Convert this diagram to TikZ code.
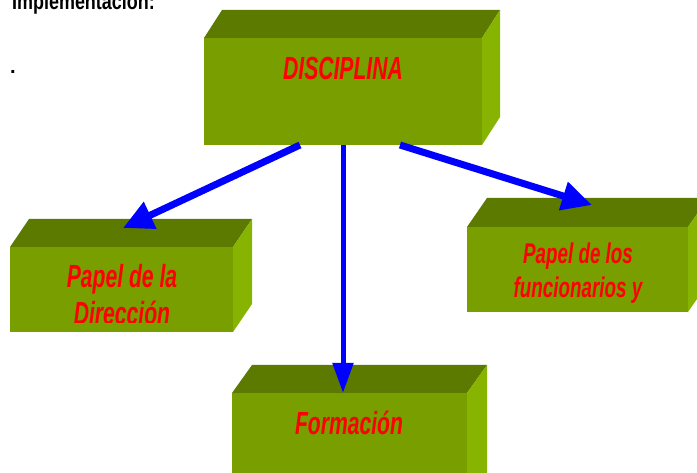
\documentclass[tikz,border=0pt]{standalone}
\usepackage{fontspec}
\setmainfont{Liberation Sans}
\newfontfamily\labelfont[FakeStretch=0.66]{Liberation Sans}
\newfontfamily\headfont[FakeStretch=0.78]{Liberation Sans}
\usetikzlibrary{arrows.meta}

\definecolor{frontgreen}{RGB}{120,158,0}
\definecolor{topgreen}{RGB}{92,122,0}
\definecolor{sidegreen}{RGB}{134,180,0}
\definecolor{linkblue}{RGB}{0,0,255}
\definecolor{labelred}{RGB}{255,0,0}

\tikzset{
  frontface/.style={fill=frontgreen, draw=none, inner sep=0pt, outer sep=0pt, anchor=north west},
  topface/.style={fill=topgreen},
  sideface/.style={fill=sidegreen},
  boxlabel/.style={font=\labelfont\bfseries\itshape\fontsize{32}{36}\selectfont,
                   text=labelred, inner sep=0pt, anchor=base},
  smalllabel/.style={boxlabel, font=\labelfont\bfseries\itshape\fontsize{28.5}{32}\selectfont},
  link/.style={draw=linkblue, line width=7pt, -{Triangle[length=30pt,width=28pt]}},
  downlink/.style={draw=linkblue, line width=5pt, -{Triangle[length=30pt,width=20pt]}},
}

\begin{document}
\begin{tikzpicture}[x=1pt, y=-1pt]
\clip (0,0) rectangle (697,473);
\fill[white] (0,0) rectangle (697,473);

% heading line and stray dot
\node[font=\headfont\bfseries\fontsize{23}{26}\selectfont, anchor=base west, inner sep=0pt]
  (head) at (12,10) {Implementación:};
\node[font=\bfseries\fontsize{20}{22}\selectfont, anchor=base, inner sep=0pt] (dot) at (13,74) {.};

% top block
\node[frontface, minimum width=278pt, minimum height=107pt] (disc) at (204,38) {};
\fill[topface] (disc.north west) -- ++(18,-28) -- ++(278,0) -- (disc.north east) -- cycle;
\fill[sideface] (disc.north east) -- ++(18,-28) -- ++(0,107) -- (disc.south east) -- cycle;
\node[boxlabel] (disc-t) at (343,80) {DISCIPLINA};

% left block
\node[frontface, minimum width=223pt, minimum height=85pt] (dir) at (10,247) {};
\fill[topface] (dir.north west) -- ++(19,-28) -- ++(223,0) -- (dir.north east) -- cycle;
\fill[sideface] (dir.north east) -- ++(19,-28) -- ++(0,85) -- (dir.south east) -- cycle;
\begin{scope}
  \clip (10,247) rectangle (233,323);
  \node[boxlabel] (dir-t1) at (122,288) {Papel de la};
  \node[boxlabel] (dir-t2) at (122,325) {Dirección};
\end{scope}

% right block
\node[frontface, minimum width=221pt, minimum height=85pt] (fun) at (467,227) {};
\fill[topface] (fun.north west) -- ++(20,-29) -- ++(221,0) -- (fun.north east) -- cycle;
\fill[sideface] (fun.north east) -- ++(20,-29) -- ++(0,85) -- (fun.south east) -- cycle;
\begin{scope}
  \clip (467,227) rectangle (688,304);
  \node[smalllabel] (fun-t1) at (578,264) {Papel de los};
  \node[smalllabel] (fun-t2) at (578,298) {funcionarios y};
\end{scope}

% bottom block
\node[frontface, minimum width=235pt, minimum height=120pt] (form) at (232,393) {};
\fill[topface] (form.north west) -- ++(20,-28) -- ++(235,0) -- (form.north east) -- cycle;
\fill[sideface] (form.north east) -- ++(20,-28) -- ++(0,120) -- (form.south east) -- cycle;
\node[boxlabel] (form-t) at (349,435) {Formación};

% arrow ends on the lower blocks
\coordinate (dir-tip) at (123,228);
\coordinate (fun-tip) at (592,205);
\coordinate (form-tip) at (343,393);

% connectors
\draw[link] ([xshift=-43pt]disc.south) -- (dir-tip);
\draw[link] ([xshift=57pt]disc.south) -- (fun-tip);
\draw[downlink] (disc.south) -- (form-tip);
\end{tikzpicture}
\end{document}
